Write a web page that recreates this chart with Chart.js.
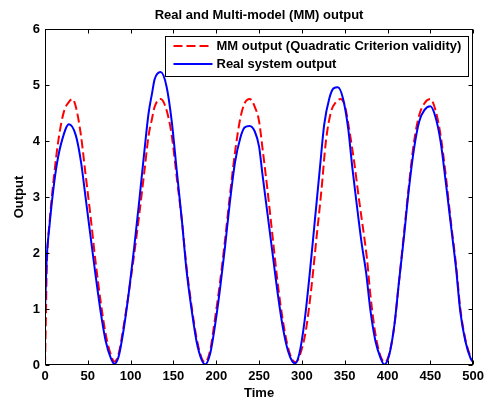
<!DOCTYPE html>
<html>
<head>
<meta charset="utf-8">
<title>Real and Multi-model (MM) output</title>
<script src="https://cdn.jsdelivr.net/npm/chart.js@4.4.0/dist/chart.umd.min.js"></script>
<style>
  html, body { margin: 0; padding: 0; background: #fff; }
  #wrap { width: 488px; height: 403px; }
</style>
</head>
<body>
<div id="wrap"><canvas id="outputChart"></canvas></div>
<script>
// multi-model output (quadratic criterion validity)
var mmTime = [0,1,2,3,5,10,16,22,28,32, 36,42,47,53,59,65,71,77,81,86,
    92,98,104,110,116,121,125,128,135,142, 148,154,160,165,171,177,183,187,193,198,
    204,210,216,222,228,233,239,245,250,254, 260,266,272,278,284,289,293,299,305,311,
    317,323,328,334,340,345,350,355,361,367, 373,376,380,386,392,397,402,408,413,419,
    425,431,437,443,450,456,462,468,474,480, 485,491,497,500];
var mmOutput = [0,0.8,1.7,2.1,2.5,3.3,4.05,4.52,4.70,4.75, 4.61,4.1,3.45,2.68,1.85,1.13,0.54,0.18,0.06,0.2,
    0.71,1.31,1.96,2.68,3.45,4.1,4.4,4.61,4.75,4.55, 4.1,3.33,2.56,1.79,1.07,0.48,0.12,0.05,0.27,0.77,
    1.43,2.2,3.04,3.81,4.4,4.67,4.75,4.61,4.35,3.87, 3.1,2.26,1.43,0.77,0.3,0.09,0.05,0.24,0.65,1.37,
    2.26,3.15,3.99,4.52,4.7,4.75,4.64,4.23,3.63,2.92, 2.26,1.9,1.25,0.54,0.15,0.05,0.2,0.71,1.43,2.32,
    3.21,3.99,4.46,4.67,4.75,4.55,4.1,3.39,2.56,1.79, 1.01,0.45,0.15,0.06];

// real system output
var realTime = [0,2,5,9,14,20,28,36,42,47, 53,59,65,71,77,81,86,92,98,104,
    110,116,121,125,128,135,142,148,154,160, 165,171,177,183,187,193,198,204,210,216,
    222,228,233,239,245,250,254,260,266,272, 278,284,289,292,297,303,309,315,321,326,
    332,337,342,348,354,359,365,370,375,380, 386,392,396,402,408,413,419,425,431,437,
    443,450,456,462,468,474,480,485,491,497, 500];
var realOutput = [0.95,1.9,2.45,3.04,3.6,4.02,4.30,4.1,3.63,3.04, 2.32,1.61,0.95,0.42,0.12,0.02,0.15,0.65,1.31,2.08,
    2.92,3.81,4.5,4.85,5.1,5.23,4.97,4.35,3.45,2.56, 1.73,1.01,0.42,0.09,0.01,0.21,0.65,1.31,2.08,2.92,
    3.63,4.05,4.24,4.27,4.17,3.9,3.4,2.68,1.96,1.25, 0.65,0.24,0.06,0.03,0.2,0.77,1.61,2.56,3.51,4.29,
    4.76,4.94,4.96,4.76,4.23,3.51,2.75,2.15,1.65,0.98, 0.42,0.12,0.01,0.18,0.71,1.43,2.26,3.15,3.87,4.35,
    4.55,4.62,4.43,3.99,3.27,2.5,1.73,0.95,0.42,0.12, 0.05];

var timeTicks = [0,50,100,150,200,250,300,350,400,450,500];
var outputTicks = [0,1,2,3,4,5,6];
var chartTitle = 'Real and Multi-model (MM) output';

var fontFamily = '"Liberation Sans", Arial, Helvetica, sans-serif';
var labelFont = { family: fontFamily, size: 13, weight: 'bold' };

function toPoints(xs, ys){
    return xs.map(function(x, i){ return { x: x, y: ys[i] }; });
}

// title centred over the axes rather than the whole canvas
var axesTitle = {
    id: 'axesTitle',
    afterDraw: function(chart){
        var ctx = chart.ctx, a = chart.chartArea;
        ctx.save();
        ctx.font = 'bold 13px ' + fontFamily;
        ctx.fillStyle = '#000';
        ctx.textAlign = 'center';
        ctx.textBaseline = 'middle';
        ctx.fillText(chartTitle, (a.left + a.right) / 2, 15);
        ctx.restore();
    }
};

// box round the axes, ticks pointing inwards on all four sides
var axesBox = {
    id: 'axesBox',
    afterDatasetsDraw: function(chart){
        var ctx = chart.ctx, a = chart.chartArea;
        var xs = chart.scales.x, ys = chart.scales.y;
        var l = Math.round(a.left) + 0.5, r = Math.round(a.right) - 0.5;
        var t = Math.round(a.top) + 0.5, b = Math.round(a.bottom) - 0.5;
        ctx.save();
        ctx.strokeStyle = '#000';
        ctx.lineWidth = 1;
        ctx.beginPath();
        xs.ticks.forEach(function(tk){
            var px = Math.round(xs.getPixelForValue(tk.value)) + 0.5;
            ctx.moveTo(px, t); ctx.lineTo(px, t + 4);
            ctx.moveTo(px, b); ctx.lineTo(px, b - 4);
        });
        ys.ticks.forEach(function(tk){
            var py = Math.round(ys.getPixelForValue(tk.value)) + 0.5;
            ctx.moveTo(l, py); ctx.lineTo(l + 4, py);
            ctx.moveTo(r, py); ctx.lineTo(r - 4, py);
        });
        ctx.stroke();
        ctx.strokeRect(l, t, r - l, b - t);
        ctx.restore();
    }
};

// legend box in the upper right of the axes
var boxLegend = {
    id: 'boxLegend',
    afterDraw: function(chart){
        var ctx = chart.ctx;
        var x0 = 165.5, y0 = 36.5, w = 303, h = 40;
        ctx.save();
        ctx.fillStyle = '#fff';
        ctx.fillRect(x0, y0, w, h);
        ctx.strokeStyle = '#000';
        ctx.lineWidth = 1;
        ctx.strokeRect(x0, y0, w, h);
        ctx.font = 'bold 13px ' + fontFamily;
        ctx.textBaseline = 'middle';
        ctx.fillStyle = '#000';
        var order = [1, 0];
        order.forEach(function(di, row){
            var ds = chart.data.datasets[di];
            var y = y0 + 9.5 + row * 18;
            ctx.strokeStyle = ds.borderColor;
            ctx.lineWidth = ds.borderWidth;
            ctx.setLineDash(ds.borderDash || []);
            ctx.beginPath();
            ctx.moveTo(x0 + 8, y);
            ctx.lineTo(x0 + 47, y);
            ctx.stroke();
            ctx.setLineDash([]);
            ctx.fillText(ds.label, x0 + 51, y + 0.5);
        });
        ctx.restore();
    }
};

var ctx = document.getElementById('outputChart').getContext('2d');
var myChart = new Chart(ctx, {
    type: 'line',
    data: {
        datasets: [{
            label: 'Real system output',
            data: toPoints(realTime, realOutput),
            borderColor: '#0000ff',
            borderWidth: 2,
            order: 0
        }, {
            label: 'MM output (Quadratic Criterion validity)',
            data: toPoints(mmTime, mmOutput),
            borderColor: '#ff0000',
            borderWidth: 2,
            borderDash: [9, 4],
            order: 1
        }]
    },
    options: {
        responsive: true,
        maintainAspectRatio: false,
        animation: false,
        layout: { padding: { left: 0, right: 14, top: 29, bottom: 0 } },
        elements: {
            point: { radius: 0 },
            line: { cubicInterpolationMode: 'monotone', fill: false }
        },
        plugins: {
            legend: { display: false },
            tooltip: { enabled: false },
            title: { display: false }
        },
        scales: {
            x: {
                type: 'linear',
                min: 0,
                max: 500,
                afterBuildTicks: function(s){ s.ticks = timeTicks.map(function(v){ return { value: v }; }); },
                afterFit: function(s){ s.height = 38; },
                grid: { display: false, drawTicks: false },
                border: { display: false },
                ticks: { color: '#000', font: labelFont, padding: 4, maxRotation: 0, autoSkip: false },
                title: { display: true, text: 'Time', color: '#000', font: labelFont, padding: { top: 0, bottom: 2 } }
            },
            y: {
                type: 'linear',
                min: 0,
                max: 6,
                afterBuildTicks: function(s){ s.ticks = outputTicks.map(function(v){ return { value: v }; }); },
                afterFit: function(s){ s.width = 45; },
                grid: { display: false, drawTicks: false },
                border: { display: false },
                ticks: { color: '#000', font: labelFont, padding: 5, autoSkip: false },
                title: { display: true, text: 'Output', color: '#000', font: labelFont, padding: { top: 12, bottom: 0 } }
            }
        }
    },
    plugins: [axesBox, boxLegend, axesTitle]
});
</script>
</body>
</html>
